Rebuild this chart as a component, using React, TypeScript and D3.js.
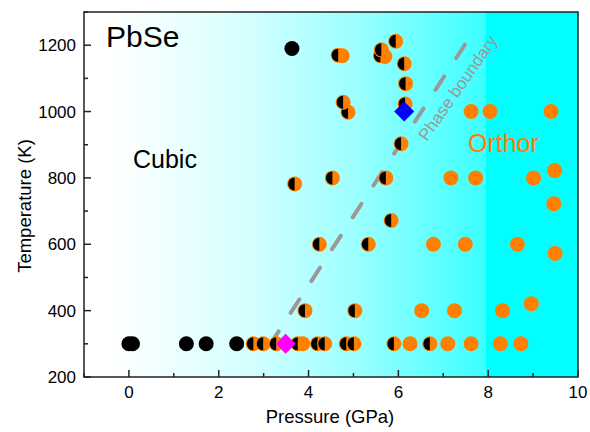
import React from "react";
import * as d3 from "d3";

const W = 590, H = 432;
const M = { left: 84, top: 12, right: 578, bottom: 377 };

const xTicks = [0, 2, 4, 6, 8, 10];
const xMinor = [-1, 1, 3, 5, 7, 9];
const yTicks = [200, 400, 600, 800, 1000, 1200];
const yMinor = [300, 500, 700, 900, 1100, 1300];

// Cubic phase (black)
const cubicP = [0.0, 0.08, 1.28, 1.72, 2.4, 3.63];
const cubicT = [300, 300, 300, 300, 300, 1190];

// Mixed phase (half-filled)
const mixedP = [2.77, 2.99, 3.28, 3.76, 4.2, 4.36, 4.84, 5.01, 5.9, 6.7,
  3.92, 5.03, 4.24, 5.33, 5.84, 3.69, 4.53, 5.72, 6.06, 4.88, 4.77, 6.15, 6.16, 6.13, 5.94,
  4.66, 5.6, 5.62];
const mixedT = [300, 300, 300, 300, 300, 300, 300, 300, 300, 300,
  400, 400, 600, 600, 672, 782, 800, 800, 903, 998, 1028, 1023, 1084, 1144, 1212,
  1170, 1168, 1186];

// Orthorhombic (orange)
const orthoP = [3.87, 6.26, 7.1, 7.62, 8.27, 8.73,
  6.52, 7.25, 8.32, 8.96,
  6.78, 7.49, 8.65, 9.49, 9.46,
  7.17, 7.72, 9.01, 9.48,
  7.62, 8.04, 9.4, 4.75, 5.7];
const orthoT = [300, 300, 300, 300, 300, 300,
  400, 400, 400, 421,
  600, 600, 600, 572, 722,
  800, 800, 800, 822,
  1000, 1000, 1000, 1168, 1166];

const diamondP = [3.49, 6.13];
const diamondT = [300, 1000];
const diamondColor = ["#ff00ff", "#0000ff"];

const boundaryP = [3.14, 7.57];
const boundaryT = [297, 1220];

const ORANGE = "#ff8000";
const FONT = "'Liberation Sans', Arial, sans-serif";

export default function App() {
  const x = d3.scaleLinear().domain([-1, 10]).range([M.left, M.right]);
  const y = d3.scaleLinear().domain([200, 1300]).range([M.bottom, M.top]);
  const r = 7.5;

  const halfPath = (cx: number, cy: number) => {
    const rr = r - 1;
    return `M${cx},${cy - rr}A${rr},${rr} 0 0 0 ${cx},${cy + rr}Z`;
  };

  const line = d3.line<number>().x((_, i) => x(boundaryP[i])).y((_, i) => y(boundaryT[i]));

  const order: { kind: string; p: number; t: number }[] = [];
  cubicP.forEach((p, i) => order.push({ kind: "c", p, t: cubicT[i] }));
  orthoP.forEach((p, i) => order.push({ kind: "o", p, t: orthoT[i] }));
  mixedP.forEach((p, i) => order.push({ kind: "m", p, t: mixedT[i] }));
  order.sort((a, b) => (a.t === b.t ? a.p - b.p : 0));

  const frac = (v: number) => (x(v) - M.left) / (M.right - M.left);

  return (
    <svg width={W} height={H} style={{ position: "absolute", left: 0, top: 0, background: "#fff" }} fontFamily={FONT}>
      <defs>
        <linearGradient id="bg" gradientUnits="userSpaceOnUse" x1={M.left} x2={M.right} y1={0} y2={0}>
          <stop offset="0" stopColor="#ffffff" />
          <stop offset={frac(-0.35)} stopColor="#ffffff" />
          <stop offset={frac(2.5)} stopColor="#d8ffff" />
          <stop offset={frac(5)} stopColor="#9effff" />
          <stop offset={frac(7.95)} stopColor="#3cffff" />
          <stop offset={frac(7.95)} stopColor="#00ffff" />
          <stop offset="1" stopColor="#00ffff" />
        </linearGradient>
      </defs>
      <rect x={M.left} y={M.top} width={M.right - M.left} height={M.bottom - M.top} fill="url(#bg)" />

      {/* phase boundary */}
      <path d={line([0, 1]) || ""} stroke="#999999" strokeWidth={4} strokeDasharray="16,22" strokeLinecap="round" fill="none" />

      {order.map((d, i) => {
        const cx = x(d.p), cy = y(d.t);
        if (d.kind === "c") return <circle key={i} cx={cx} cy={cy} r={r} fill="#000" />;
        if (d.kind === "o") return <circle key={i} cx={cx} cy={cy} r={r} fill={ORANGE} />;
        return (
          <g key={i}>
            <circle cx={cx} cy={cy} r={r} fill={ORANGE} />
            <path d={halfPath(cx, cy)} fill="#000" />
          </g>
        );
      })}

      {diamondP.map((p, i) => {
        const cx = x(p), cy = y(diamondT[i]), s = 10;
        return <path key={"d" + i} d={`M${cx},${cy - s}L${cx + s},${cy}L${cx},${cy + s}L${cx - s},${cy}Z`} fill={diamondColor[i]} />;
      })}

      {/* texts */}
      <text x={106} y={47} fontSize={30} fill="#000">PbSe</text>
      <text x={133} y={168} fontSize={25} fill="#000">Cubic</text>
      <text x={468} y={152} fontSize={25} fill={ORANGE}>Orthor</text>
      <text x={0} y={0} fontSize={17} fill="#999999" transform={`translate(427,142) rotate(-55)`}>Phase boundary</text>

      {/* frame */}
      <rect x={M.left} y={M.top} width={M.right - M.left} height={M.bottom - M.top} fill="none" stroke="#222" strokeWidth={1.5} />

      {/* x ticks */}
      {xTicks.map((t) => (
        <g key={"xt" + t}>
          <line x1={x(t)} x2={x(t)} y1={M.bottom} y2={M.bottom - 7} stroke="#222" strokeWidth={1.5} />
          <text x={x(t)} y={398} fontSize={17} textAnchor="middle">{t}</text>
        </g>
      ))}
      {xMinor.map((t) => (
        <line key={"xm" + t} x1={x(t)} x2={x(t)} y1={M.bottom} y2={M.bottom - 4} stroke="#222" strokeWidth={1.5} />
      ))}
      {yTicks.map((t) => (
        <g key={"yt" + t}>
          <line x1={M.left} x2={M.left + 7} y1={y(t)} y2={y(t)} stroke="#222" strokeWidth={1.5} />
          <text x={76} y={y(t) + 6} fontSize={17} textAnchor="end">{t}</text>
        </g>
      ))}
      {yMinor.map((t) => (
        <line key={"ym" + t} x1={M.left} x2={M.left + 4} y1={y(t)} y2={y(t)} stroke="#222" strokeWidth={1.5} />
      ))}

      <text x={330} y={423} fontSize={18.5} textAnchor="middle">Pressure (GPa)</text>
      <text transform={`translate(31,206) rotate(-90)`} fontSize={18.5} textAnchor="middle">Temperature (K)</text>
    </svg>
  );
}
